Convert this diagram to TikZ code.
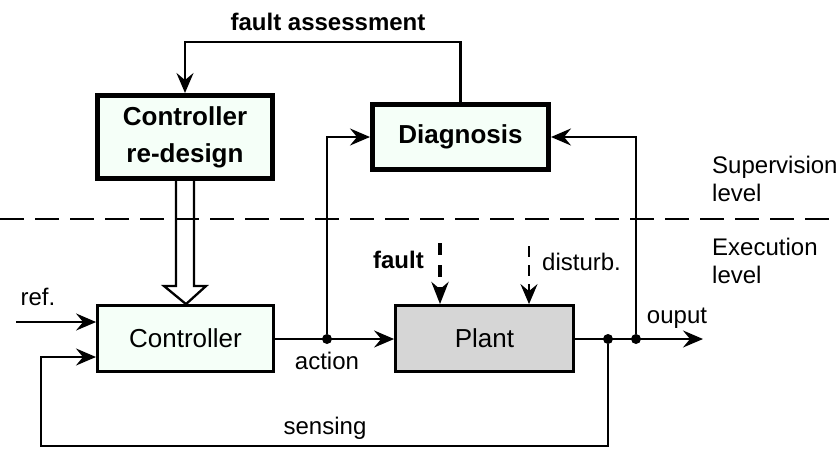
\documentclass[tikz,border=0pt]{standalone}
\usepackage{fontspec}
\setmainfont{Liberation Sans}
\usetikzlibrary{arrows.meta,calc}
\definecolor{boxfill}{RGB}{245,255,248}
\definecolor{plantfill}{RGB}{214,214,214}
\begin{document}
\begin{tikzpicture}[x=1pt,y=-1pt,
  font=\fontsize{24}{28}\selectfont,
  tip/.style={-{Stealth[length=20pt,width=17pt,inset=7pt]}},
  conn/.style={line width=2.3pt,tip},
  boldbox/.style={draw,line width=5pt,fill=boxfill,align=center,inner sep=0pt,
    font=\fontsize{26}{37}\selectfont\bfseries},
  plainbox/.style={draw,line width=2.8pt,align=center,inner sep=0pt,
    font=\fontsize{26}{30}\selectfont},
  dot/.style={circle,fill=black,inner sep=0pt,minimum size=10pt},
  lbl/.style={inner sep=0pt}]
\useasboundingbox (0,0) rectangle (840,448);

% level separator
\draw[line width=2.2pt,dash pattern=on 24pt off 11pt] (0,219) -- (840,219);

% blocks
\node[boldbox,minimum width=175pt,minimum height=83pt] (redesign) at (185,137) {Controller\\re-design};
\node[boldbox,minimum width=176pt,minimum height=65pt] (diag) at (460.5,137) {Diagnosis};
\node[plainbox,fill=boxfill,minimum width=176pt,minimum height=66pt] (ctrl) at (185.5,338.5) {Controller};
\node[plainbox,fill=plantfill,minimum width=178pt,minimum height=66pt] (plant) at (484.5,338.5) {Plant};

% hollow arrow: re-design acts on the controller
\draw[line width=2.3pt,line join=miter]
  ($(redesign.south)+(-9,0)$) -- ++(0,105) -- ++(-12,0) -- ($(ctrl.north)+(0.5,0)$)
  -- ($(redesign.south)+(21,105)$) -- ++(-12,0) -- ($(redesign.south)+(9,0)$);

% junctions
\node[dot] (ja) at (327,339) {};
\node[dot] (js) at (608,339) {};
\node[dot] (jo) at (636,339) {};
\coordinate (out) at (703,339);
\coordinate (refin) at (16,322);
\coordinate (fbin) at (96,357);
\coordinate (fbl) at (41,446);
\coordinate (faultsrc) at (440,243);
\coordinate (distsrc) at (529,246);

% signal flow
\draw[conn] (ctrl.east |- ja) -- (plant.west |- ja);
\draw[conn] (ja) |- (diag.west);
\draw[conn] (plant.east |- js) -- (out);
\draw[conn] (jo) |- (diag.east);
\draw[conn] (js) |- (fbl) |- (fbin);
\draw[conn] (refin) -- (ctrl.west |- refin);
\draw[conn] (diag.north) -- ++(0,-60) -| (redesign.north);

% disturbances
\draw[line width=4pt,dash pattern=on 12pt off 10pt,
  -{Stealth[length=22pt,width=17pt,inset=7pt]}] (faultsrc) -- (plant.north -| faultsrc);
\draw[line width=2.3pt,dash pattern=on 11pt off 8pt,tip] (distsrc) -- (plant.north -| distsrc);

% labels
\node[lbl,font=\fontsize{24}{28}\selectfont\bfseries] (fa) at (328,22) {fault assessment};
\node[lbl,font=\fontsize{24}{28}\selectfont\bfseries,anchor=east] (fl) at (424,260) {fault};
\node[lbl,anchor=west] (dl) at (542,262) {disturb.};
\node[lbl] (rl) at (38,297) {ref.};
\node[lbl] (al) at (327,361) {action};
\node[lbl] (ol) at (677,318) {ouput};
\node[lbl] (sl) at (325,428) {sensing};
\node[lbl,anchor=west,align=left] (sup) at (712,179) {Supervision\\level};
\node[lbl,anchor=west,align=left] (exe) at (712,261) {Execution\\level};
\end{tikzpicture}
\end{document}
